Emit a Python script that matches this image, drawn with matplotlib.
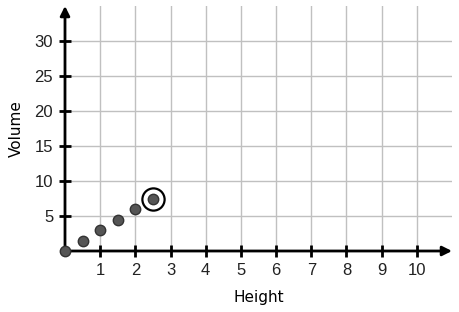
import matplotlib.pyplot as plt

# Data
heights = [0, 0.5, 1, 1.5, 2, 2.5]
volumes = [0, 1.5, 3, 4.5, 6, 7.5]
circled_x = [2.5]
circled_y = [7.5]
x_ticks = list(range(1, 11))
y_ticks = [5, 10, 15, 20, 25, 30]

fig = plt.figure(figsize=(4.59, 3.12), dpi=100)
ax = fig.add_axes([65 / 459, 61 / 312, 387 / 459, 245 / 312])
ax.set_xlim(0, 11)
ax.set_ylim(0, 35)

for s in ax.spines.values():
    s.set_visible(False)

ax.set_xticks(x_ticks)
ax.set_yticks(y_ticks)
ax.grid(True, color='#c0c0c0', lw=1)
ax.set_axisbelow(True)
ax.tick_params(direction='inout', length=9, width=2, color='black',
               labelsize=12, labelcolor='#222222', pad=4)
for lab in ax.get_xticklabels() + ax.get_yticklabels():
    lab.set_fontfamily('Liberation Sans')

# axes with arrowheads
ax.annotate('', xy=(1.0, 0), xytext=(0, 0), xycoords='axes fraction',
            arrowprops=dict(arrowstyle='-|>', lw=2, color='black', mutation_scale=14,
                            shrinkA=0, shrinkB=0), annotation_clip=False)
ax.annotate('', xy=(0, 1.0), xytext=(0, 0), xycoords='axes fraction',
            arrowprops=dict(arrowstyle='-|>', lw=2, color='black', mutation_scale=14,
                            shrinkA=0, shrinkB=0), annotation_clip=False)

ax.plot(heights, volumes, 'o', color='#555555', markeredgecolor='#333333',
        markersize=7.5, clip_on=False, zorder=5)
ax.plot(circled_x, circled_y, 'o', markerfacecolor='none', markeredgecolor='black',
        markersize=16, markeredgewidth=1.6, clip_on=False, zorder=5)

ax.set_xlabel('Height', fontsize=11, labelpad=9)
ax.set_ylabel('Volume', fontsize=11, labelpad=8)

fig.savefig('out.png', dpi=100)
